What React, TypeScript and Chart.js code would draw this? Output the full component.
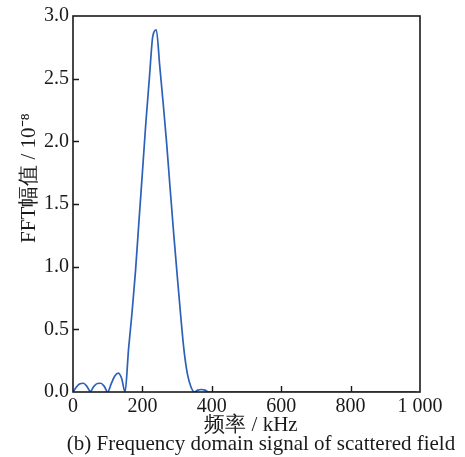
import React, { useEffect, useRef } from "react";
import { Chart, registerables } from "chart.js";

Chart.register(...registerables);

// Frequency (kHz) and FFT amplitude (×10^-8) of the scattered field
const freqKHz = [
  0, 10, 20, 30, 40, 50, 60, 70, 80, 90, 100, 110, 120, 130, 140, 150,
  160, 170, 180, 190, 200, 210, 220, 230, 240, 250, 260, 270, 280, 290,
  300, 310, 320, 330, 340, 350, 360, 370, 380, 390, 400, 500, 600, 700,
  800, 900, 990,
];
const fftAmp = [
  0, 0.04, 0.065, 0.07, 0.045, 0.005, 0.045, 0.068, 0.07, 0.045, 0.0, 0.065, 0.125, 0.15, 0.11, 0.0,
  0.34, 0.63, 0.96, 1.36, 1.75, 2.15, 2.5, 2.84, 2.89, 2.6, 2.3, 1.98, 1.62, 1.27,
  0.94, 0.62, 0.33, 0.14, 0.04, 0.0, 0.015, 0.02, 0.015, 0.0, 0, 0, 0, 0,
  0, 0, 0,
];
const xTicks = [0, 200, 400, 600, 800, 1000];
const yTicks = [0, 0.5, 1.0, 1.5, 2.0, 2.5, 3.0];

const serif = '"Liberation Serif", "Times New Roman", serif';

const framePlugin = {
  id: "frame",
  afterDraw(chart: any) {
    const { ctx, chartArea: a, scales } = chart;
    const xs = scales.x;
    const ys = scales.y;
    ctx.save();
    // box around the plot
    ctx.strokeStyle = "#1a1a1a";
    ctx.lineWidth = 1.6;
    ctx.strokeRect(a.left, a.top, a.right - a.left, a.bottom - a.top);
    // inward tick marks
    ctx.lineWidth = 1.4;
    ctx.beginPath();
    xTicks.slice(1, -1).forEach((v) => {
      const px = Math.round(xs.getPixelForValue(v)) + 0.5;
      ctx.moveTo(px, a.bottom);
      ctx.lineTo(px, a.bottom - 6);
    });
    yTicks.slice(1, -1).forEach((v) => {
      const py = Math.round(ys.getPixelForValue(v)) + 0.5;
      ctx.moveTo(a.left, py);
      ctx.lineTo(a.left + 6, py);
    });
    ctx.stroke();

    // axis titles and caption
    ctx.fillStyle = "#1a1a1a";
    ctx.textBaseline = "alphabetic";
    ctx.textAlign = "center";
    ctx.font = `21px ${serif}`;
    ctx.fillText("频率 / kHz", 251, 431);
    ctx.fillText("(b) Frequency domain signal of scattered field", 261, 450);

    ctx.translate(35, 178);
    ctx.rotate(-Math.PI / 2);
    ctx.fillText("FFT幅值 / 10⁻⁸", 0, 0);
    ctx.restore();
  },
};

export default function App() {
  const ref = useRef<HTMLCanvasElement | null>(null);

  useEffect(() => {
    if (!ref.current) return;
    const chart = new Chart(ref.current, {
      type: "line",
      data: {
        datasets: [
          {
            data: freqKHz.map((f, i) => ({ x: f, y: fftAmp[i] })),
            borderColor: "#2d60b8",
            borderWidth: 1.7,
            pointRadius: 0,
            cubicInterpolationMode: "monotone",
            fill: false,
          },
        ],
      },
      options: {
        animation: false,
        responsive: false,
        devicePixelRatio: 1,
        layout: { padding: { left: 0, top: 14, right: 45, bottom: 0 } },
        plugins: { legend: { display: false }, tooltip: { enabled: false } },
        scales: {
          x: {
            type: "linear",
            min: 0,
            max: 1000,
            afterFit: (s: any) => {
              s.height = 65;
            },
            afterBuildTicks: (s: any) => {
              s.ticks = xTicks.map((v) => ({ value: v }));
            },
            grid: { display: false, drawTicks: false },
            border: { display: false },
            ticks: {
              padding: 3,
              color: "#1a1a1a",
              font: { family: serif, size: 20 },
              maxRotation: 0,
              callback: (v: any) => (v === 1000 ? "1 000" : String(v)),
            },
          },
          y: {
            type: "linear",
            min: 0,
            max: 3,
            afterFit: (s: any) => {
              s.width = 73;
            },
            afterBuildTicks: (s: any) => {
              s.ticks = yTicks.map((v) => ({ value: v }));
            },
            grid: { display: false, drawTicks: false },
            border: { display: false },
            ticks: {
              padding: 4,
              color: "#1a1a1a",
              font: { family: serif, size: 20 },
              callback: (v: any) => Number(v).toFixed(1),
            },
          },
        },
      },
      plugins: [framePlugin],
    });
    return () => chart.destroy();
  }, []);

  return (
    <div style={{ position: "absolute", left: 0, top: 0, width: 465, height: 457, background: "#fff" }}>
      <canvas ref={ref} width={465} height={457} style={{ width: 465, height: 457 }} />
    </div>
  );
}
